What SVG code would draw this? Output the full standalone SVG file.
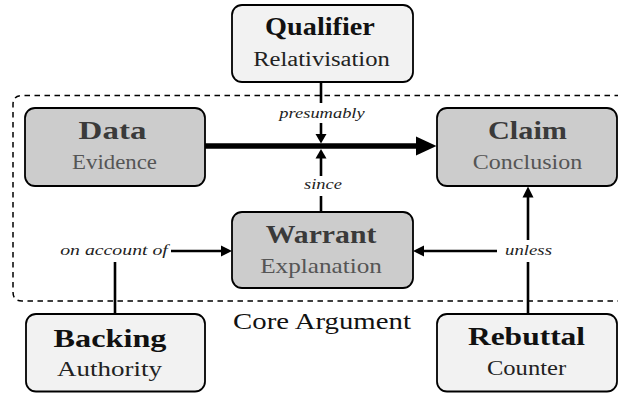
<svg xmlns="http://www.w3.org/2000/svg" width="618" height="393" viewBox="0 0 618 393">
<defs>
<style>
.box{stroke:#000;stroke-width:1.8}
.core{fill:#cccccc}
.outer{fill:#f2f2f2}
.ct{fill:#3a3a3a}
.cs{fill:#555555}
.ot{fill:#111111}
.os{fill:#222222}
.lbl{fill:#222222}
.ln{stroke:#000;stroke-width:2.6;fill:none}
.thick{stroke:#000;stroke-width:5.5;fill:none}
.bg{fill:#ffffff}
</style>
</defs>
<rect width="618" height="393" fill="#ffffff"/>
<g id="core-argument">
<path d="M630,95.5 H22 Q13,95.5 13,104.5 V292 Q13,301 22,301 H630" fill="none" stroke="#000" stroke-width="1.5" stroke-dasharray="5.5 4.5"/>
<text font-family="Liberation Serif" font-size="24" fill="#111" text-anchor="middle" transform="translate(322,329) scale(1.2,1)">Core Argument</text>
</g>
<g id="connectors">
<line class="thick" x1="205" y1="146" x2="420" y2="146"/>
<polygon points="416,136.5 436.5,146 416,155.5" fill="#000"/>
<line class="ln" x1="321" y1="82" x2="321" y2="136"/>
<polygon points="315.5,134 326.5,134 321,143.5" fill="#000"/>
<line class="ln" x1="321" y1="212" x2="321" y2="157"/>
<polygon points="315.5,158.5 326.5,158.5 321,149" fill="#000"/>
<polyline class="ln" points="115,314 115,251 224,251"/>
<polygon points="221,245.5 232,251 221,256.5" fill="#000"/>
<line class="ln" x1="528" y1="314" x2="528" y2="195"/>
<polygon points="522.5,197.5 533.5,197.5 528,186.5" fill="#000"/>
<line class="ln" x1="528" y1="251" x2="421" y2="251"/>
<polygon points="424,245.5 413,251 424,256.5" fill="#000"/>
<rect class="bg" x="276" y="103" width="92" height="20"/>
<text class="lbl" font-family="Liberation Serif" font-style="italic" font-size="15" text-anchor="middle" transform="translate(322,118) scale(1.23,1)">presumably</text>
<rect class="bg" x="300" y="176" width="46" height="20"/>
<text class="lbl" font-family="Liberation Serif" font-style="italic" font-size="15" text-anchor="middle" transform="translate(323,189) scale(1.23,1)">since</text>
<rect class="bg" x="56" y="240" width="115" height="22"/>
<text class="lbl" font-family="Liberation Serif" font-style="italic" font-size="15" text-anchor="middle" transform="translate(114,255) scale(1.32,1)">on account of</text>
<rect class="bg" x="497" y="240" width="62" height="22"/>
<text class="lbl" font-family="Liberation Serif" font-style="italic" font-size="15" text-anchor="middle" transform="translate(528.5,255) scale(1.25,1)">unless</text>
</g>
<g id="qualifier">
<rect class="box outer" x="232" y="5" width="181" height="77" rx="10"/>
<text class="ot" font-family="Liberation Serif" font-weight="bold" font-size="25" text-anchor="middle" transform="translate(320,35) scale(1.13,1)">Qualifier</text>
<text class="os" font-family="Liberation Serif" font-size="20" text-anchor="middle" transform="translate(321.5,66) scale(1.23,1)">Relativisation</text>
</g>
<g id="data">
<rect class="box core" x="25" y="108" width="180" height="78" rx="10"/>
<text class="ct" font-family="Liberation Serif" font-weight="bold" font-size="25" text-anchor="middle" transform="translate(112.5,139) scale(1.32,1)">Data</text>
<text class="cs" font-family="Liberation Serif" font-size="20" text-anchor="middle" transform="translate(114.5,169) scale(1.14,1)">Evidence</text>
</g>
<g id="claim">
<rect class="box core" x="437" y="108" width="180" height="78" rx="10"/>
<text class="ct" font-family="Liberation Serif" font-weight="bold" font-size="25" text-anchor="middle" transform="translate(527.5,139) scale(1.21,1)">Claim</text>
<text class="cs" font-family="Liberation Serif" font-size="20" text-anchor="middle" transform="translate(527.5,169) scale(1.2,1)">Conclusion</text>
</g>
<g id="warrant">
<rect class="box core" x="232" y="212" width="181" height="76" rx="10"/>
<text class="ct" font-family="Liberation Serif" font-weight="bold" font-size="25" text-anchor="middle" transform="translate(321,243) scale(1.19,1)">Warrant</text>
<text class="cs" font-family="Liberation Serif" font-size="20" text-anchor="middle" transform="translate(321,273) scale(1.26,1)">Explanation</text>
</g>
<g id="backing">
<rect class="box outer" x="26" y="314" width="179" height="77.5" rx="10"/>
<text class="ot" font-family="Liberation Serif" font-weight="bold" font-size="25" text-anchor="middle" transform="translate(110,347) scale(1.29,1)">Backing</text>
<text class="os" font-family="Liberation Serif" font-size="20" text-anchor="middle" transform="translate(109.5,376) scale(1.35,1)">Authority</text>
</g>
<g id="rebuttal">
<rect class="box outer" x="437" y="314" width="180" height="77.5" rx="10"/>
<text class="ot" font-family="Liberation Serif" font-weight="bold" font-size="25" text-anchor="middle" transform="translate(526.5,345) scale(1.26,1)">Rebuttal</text>
<text class="os" font-family="Liberation Serif" font-size="20" text-anchor="middle" transform="translate(526.5,375) scale(1.23,1)">Counter</text>
</g>
</svg>
